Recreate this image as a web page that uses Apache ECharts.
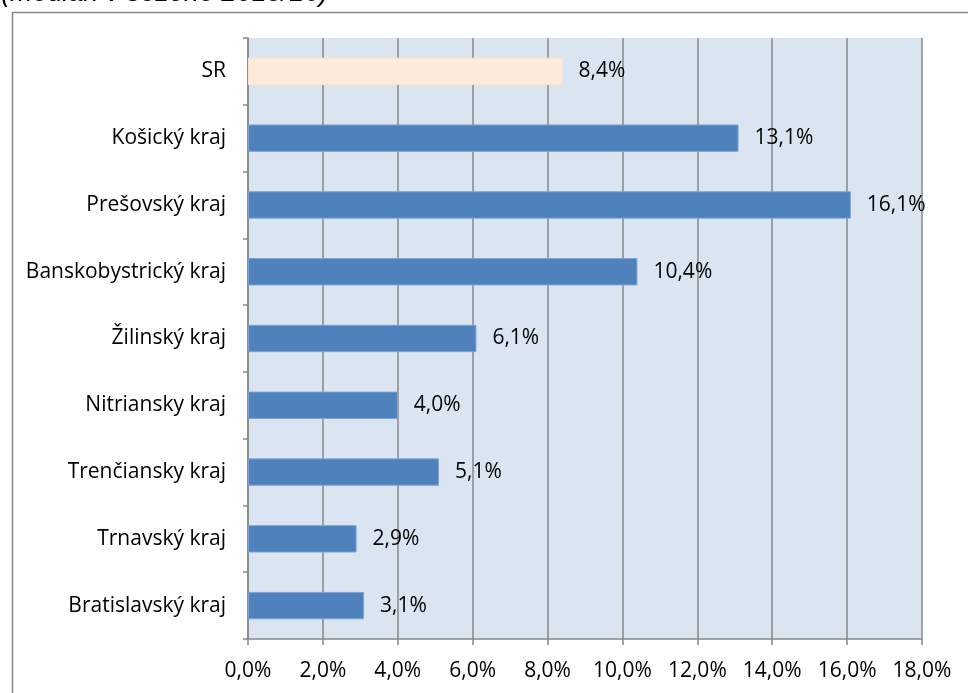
<!DOCTYPE html>
<html>
<head>
<meta charset="utf-8">
<script src="https://cdn.jsdelivr.net/npm/echarts@6/dist/echarts.min.js"></script>
<style>html,body{margin:0;padding:0;background:#fff}#c{width:968px;height:693px}</style>
</head>
<body>
<div id="c"></div>
<script>
var categories = ['SR', 'Košický kraj', 'Prešovský kraj', 'Banskobystrický kraj', 'Žilinský kraj', 'Nitriansky kraj', 'Trenčiansky kraj', 'Trnavský kraj', 'Bratislavský kraj'];
var values = [8.4, 13.1, 16.1, 10.4, 6.1, 4.0, 5.1, 2.9, 3.1];
var highlightCategory = 'SR';
var xTicks = [0, 2, 4, 6, 8, 10, 12, 14, 16, 18];
var titleText = '(medián v sezóne 2015/16)';

var FONT = '"Open Sans", sans-serif';
var FS = 21;
var chart = echarts.init(document.getElementById('c'), null, {renderer: 'canvas'});
var fmt = function (v) { return v.toFixed(1).replace('.', ',') + '%'; };
chart.setOption({
  animation: false,
  backgroundColor: '#fff',
  graphic: [
    {type: 'rect', left: 10, top: 10, shape: {x: 0, y: 0, width: 980, height: 720}, style: {fill: 'none', stroke: '#888', lineWidth: 1.5}, z: -1},
    {type: 'text', x: 1, y: -7, style: {text: titleText, font: 'italic 27px "Liberation Sans", Arial, sans-serif', fill: '#000', verticalAlign: 'middle'}}
  ],
  grid: {left: 248, right: 46, top: 38, bottom: 54, show: true, backgroundColor: '#DBE5F1', borderWidth: 0, containLabel: false},
  xAxis: {
    type: 'value', min: xTicks[0], max: xTicks[xTicks.length - 1], interval: 2,
    axisLine: {show: true, lineStyle: {color: '#888', width: 1.5}},
    axisTick: {show: true, length: 6, lineStyle: {color: '#888', width: 1.5}},
    splitLine: {show: true, lineStyle: {color: '#888', width: 1.5}},
    axisLabel: {color: '#000', fontSize: FS, fontFamily: FONT, margin: 22, formatter: fmt}
  },
  yAxis: {
    type: 'category', data: categories, inverse: true,
    axisLine: {show: true, lineStyle: {color: '#888', width: 1.5}},
    axisTick: {show: true, length: 5, lineStyle: {color: '#888', width: 1.5}},
    axisLabel: {color: '#000', fontSize: FS, fontFamily: FONT, margin: 22}
  },
  series: [{
    type: 'bar',
    barCategoryGap: '59%',
    data: values.map(function (v, i) {
      var hl = categories[i] === highlightCategory;
      return {value: v, itemStyle: {color: hl ? '#FDEADA' : '#4F81BD', borderColor: hl ? '#FCE4D0' : '#7DA3D6', borderWidth: 1}};
    }),
    label: {show: true, position: 'right', distance: 16, color: '#000', fontSize: FS, fontFamily: FONT, formatter: function (p) { return fmt(p.value); }}
  }]
});
</script>
</body>
</html>
